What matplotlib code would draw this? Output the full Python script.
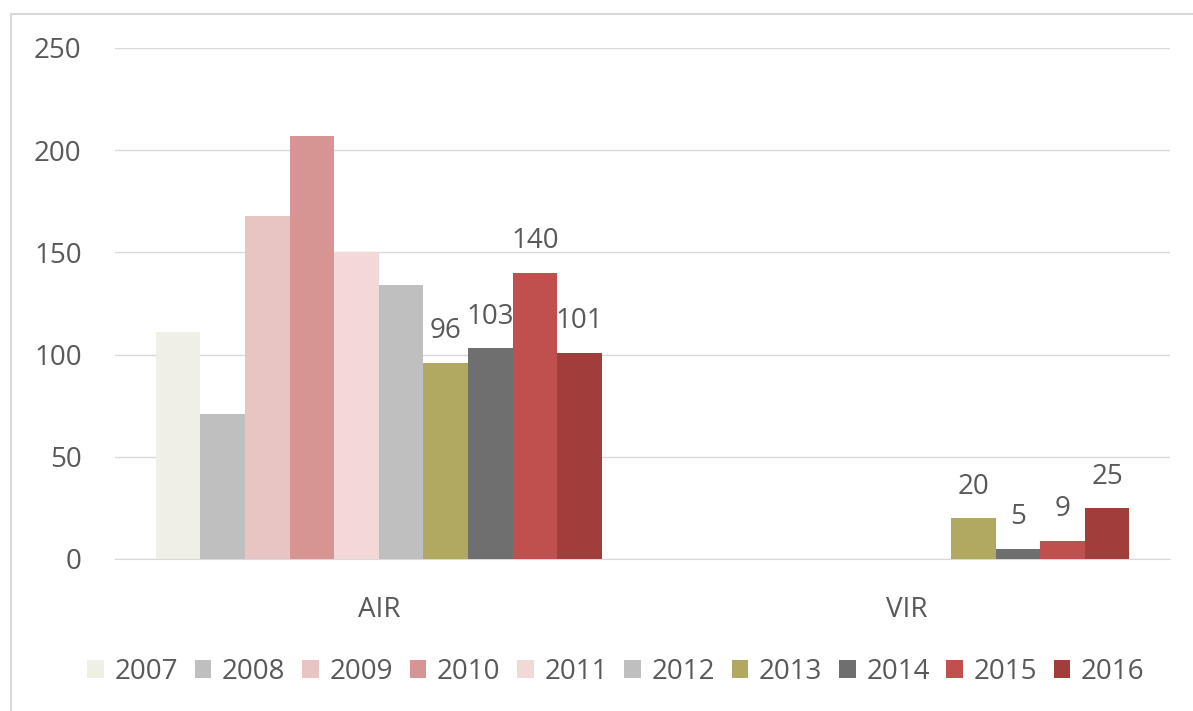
import numpy as np
import matplotlib.pyplot as plt
from matplotlib.lines import Line2D

plt.rcParams['font.family'] = ['Open Sans', 'DejaVu Sans']

categories = ['AIR', 'VIR']
years = ['2007', '2008', '2009', '2010', '2011', '2012', '2013', '2014', '2015', '2016']
air = [111, 71, 168, 207, 150, 134, 96, 103, 140, 101]
vir = [0, 0, 0, 0, 0, 0, 20, 5, 9, 25]
labelled = ['2013', '2014', '2015', '2016']
colors = ['#EFEFE6', '#BFBFBF', '#E8C4C2', '#D69593', '#F2D9D8',
          '#BFBFC0', '#B1A962', '#6F6F6F', '#C0504D', '#A03E3B']

text_col = '#595959'
grid_col = '#D9D9D9'
fs = 20

fig = plt.figure(figsize=(11.93, 7.11), dpi=100)
ax = fig.add_axes([0.0964, 0.2138, 0.8846, 0.7187])

x = np.arange(len(categories))
width = 0.0845
n = len(years)
for i, (yr, c) in enumerate(zip(years, colors)):
    vals = [air[i], vir[i]]
    pos = x + (i - (n - 1) / 2) * width
    bars = ax.bar(pos, vals, width, color=c, linewidth=0, label=yr, zorder=3)
    if yr in labelled:
        for b, v in zip(bars, vals):
            ax.annotate(str(v), (b.get_x() + b.get_width() / 2, v),
                        xytext=(0, 12.5), textcoords='offset points',
                        ha='center', va='bottom', fontsize=fs, color=text_col)

ax.set_xlim(-0.5, 1.5)
ax.set_ylim(0, 250)
ax.set_yticks(range(0, 251, 50))
ax.set_xticks(x)
ax.set_xticklabels(categories)
ax.grid(axis='y', color=grid_col, linewidth=1, zorder=0)
for s in ['top', 'right', 'left']:
    ax.spines[s].set_visible(False)
ax.spines['bottom'].set_color(grid_col)
ax.tick_params(axis='both', length=0, labelsize=fs, colors=text_col)
ax.tick_params(axis='y', pad=24)
ax.tick_params(axis='x', pad=27)

ax.legend(loc='center', bbox_to_anchor=(0.4747, -0.221), ncol=10, frameon=False,
          fontsize=fs, handlelength=0.6, handleheight=0.6, handletextpad=0.38,
          columnspacing=0.6, labelcolor=text_col, borderaxespad=0)

# outer frame (top and left edges visible in the original)
fig.add_artist(Line2D([0.0092, 1.0], [0.981, 0.981], color='#D9D9D9', lw=1.5,
                      transform=fig.transFigure))
fig.add_artist(Line2D([0.0092, 0.0092], [0.0, 0.981], color='#D9D9D9', lw=1.5,
                      transform=fig.transFigure))

fig.savefig('out.png', dpi=100, facecolor='white')
